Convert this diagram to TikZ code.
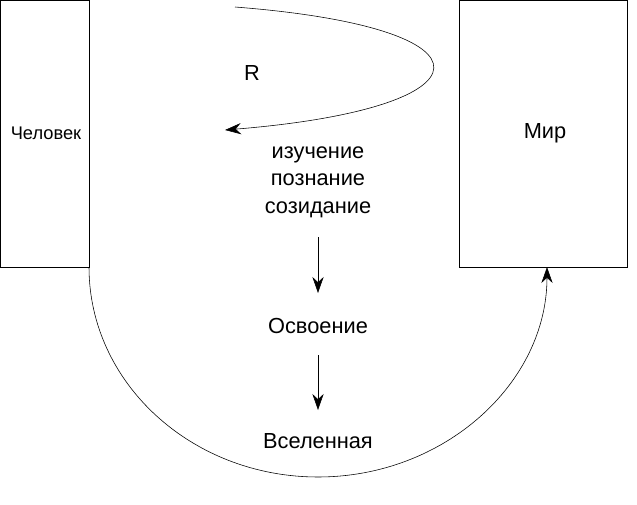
\documentclass[tikz,border=0pt]{standalone}
\usepackage{fontspec}
\setmainfont{Liberation Sans}
\usetikzlibrary{arrows.meta,positioning}
\begin{document}
\begin{tikzpicture}[x=0.25mm,y=-0.25mm,
    box/.style={draw,thin,inner sep=0pt},
    lbl/.style={font=\fontsize{15.5}{19.5}\selectfont,align=center,inner sep=1pt},
    arr/.style={-{Stealth[length=4mm,width=2.8mm]},thin}]
  \useasboundingbox (0,0) rectangle (637,504);
  % boxes
  \draw[box] (0.5,0.5) rectangle (89,267);
  \draw[box] (459,0.5) rectangle (627,267);
  \node[lbl,font=\fontsize{13}{16}\selectfont] (man) at (46,133) {Человек};
  \node[lbl] (world) at (545,133) {Мир};
  \coordinate (manfoot) at (89,267);
  \coordinate (worldfoot) at (547,267);
  % top loop
  \coordinate (loopstart) at (235,7);
  \coordinate (loopend) at (225,130);
  \draw[arr] (loopstart) .. controls (505,28) and (495,108) .. (loopend);
  \node[lbl] (rr) at (252,73) {R};
  % middle column
  \node[lbl] (study) at (318,182) {изучение\\познание\\созидание};
  \node[lbl] (master) at (318,326) {Освоение};
  \node[lbl] (universe) at (318,441) {Вселенная};
  \draw[arr] (318,237) -- (318,293);
  \draw[arr] (318,355) -- (318,410);
  % big arc
  \draw[arr] (manfoot) arc[start angle=180,end angle=360,x radius=229,y radius=-210];
\end{tikzpicture}
\end{document}
